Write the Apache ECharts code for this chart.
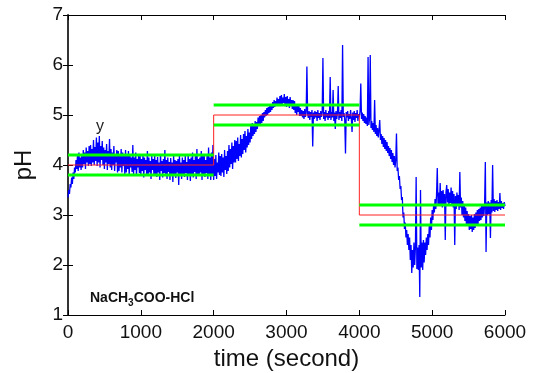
<!DOCTYPE html>
<html>
<head>
<meta charset="utf-8">
<script src="https://cdn.jsdelivr.net/npm/echarts@6/dist/echarts.min.js"></script>
<style>
  html, body { margin: 0; padding: 0; background: #ffffff; }
  #chart { width: 535px; height: 373px; }
</style>
</head>
<body>
<div id="chart"></div>
<script>
// measured pH, one sample every SAMPLE_STEP seconds (0 .. 6000 s), one row per 100 s
const SAMPLE_STEP = 10;
const phValues = [
  3.35, 3.50, 3.42, 3.62, 3.55, 3.75, 3.62, 3.85, 3.72, 3.95,
  3.85, 4.10, 3.92, 4.18, 3.88, 4.25, 3.95, 4.15, 3.90, 4.22,
  3.95, 4.30, 4.02, 4.25, 3.92, 4.35, 4.05, 4.28, 3.98, 4.38,
  4.02, 4.40, 3.98, 4.32, 4.05, 4.50, 4.00, 4.36, 4.08, 4.55,
  3.98, 4.45, 4.05, 4.58, 3.95, 4.38, 4.10, 4.48, 4.00, 4.35,
  3.92, 4.30, 4.05, 4.42, 3.90, 4.28, 4.02, 4.52, 3.95, 4.32,
  3.90, 4.25, 4.00, 4.38, 3.88, 4.22, 4.05, 4.30, 3.85, 4.28,
  3.88, 4.20, 3.95, 4.32, 3.85, 4.25, 3.98, 4.18, 3.82, 4.30,
  3.85, 4.18, 3.92, 4.28, 3.80, 4.22, 3.95, 4.15, 3.86, 4.40,
  3.82, 4.15, 3.90, 4.25, 3.78, 4.12, 3.95, 4.20, 3.84, 4.18,
  3.80, 4.12, 3.88, 4.22, 3.75, 4.15, 3.90, 4.10, 3.82, 4.28,
  3.78, 4.15, 3.85, 4.08, 3.72, 4.18, 3.90, 4.12, 3.80, 4.20,
  3.82, 4.10, 3.76, 4.16, 3.85, 4.05, 3.70, 4.22, 3.88, 4.08,
  3.75, 4.12, 3.84, 4.30, 3.78, 4.10, 3.72, 4.15, 3.86, 4.06,
  3.70, 4.14, 3.82, 4.05, 3.66, 4.18, 3.80, 4.10, 3.74, 4.08,
  3.85, 4.12, 3.60, 4.20, 3.78, 4.05, 3.72, 4.15, 3.82, 4.10,
  3.76, 4.18, 3.84, 4.06, 3.70, 4.22, 3.80, 4.12, 3.68, 4.15,
  3.82, 4.25, 3.75, 4.10, 3.86, 4.20, 3.72, 4.32, 3.80, 4.12,
  3.78, 4.15, 3.85, 4.28, 3.70, 4.18, 3.82, 4.22, 3.76, 4.10,
  3.84, 4.20, 3.72, 4.35, 3.80, 4.15, 3.70, 4.25, 3.78, 4.40,
  3.70, 4.12, 3.78, 4.20, 3.72, 4.05, 3.85, 4.25, 3.80, 4.18,
  3.78, 4.22, 3.85, 4.15, 3.76, 4.30, 3.90, 4.18, 3.82, 4.28,
  3.88, 4.40, 3.95, 4.32, 4.02, 4.45, 3.92, 4.38, 4.05, 4.50,
  4.05, 4.48, 4.12, 4.55, 4.08, 4.42, 4.18, 4.60, 4.15, 4.52,
  4.22, 4.62, 4.30, 4.68, 4.25, 4.58, 4.35, 4.72, 4.40, 4.65,
  4.45, 4.80, 4.52, 4.84, 4.58, 4.82, 4.62, 4.88, 4.66, 4.86,
  4.72, 4.95, 4.78, 4.98, 4.80, 5.00, 4.84, 5.04, 4.88, 5.06,
  4.95, 5.10, 4.98, 5.14, 5.00, 5.16, 5.04, 5.18, 5.06, 5.22,
  5.10, 5.26, 5.14, 5.30, 5.16, 5.28, 5.18, 5.35, 5.20, 5.32,
  5.20, 5.38, 5.22, 5.40, 5.20, 5.35, 5.24, 5.42, 5.18, 5.36,
  5.16, 5.38, 5.20, 5.32, 5.14, 5.36, 5.18, 5.30, 5.12, 5.30,
  5.10, 5.28, 5.04, 5.22, 5.00, 5.20, 5.06, 5.18, 4.98, 5.14,
  4.98, 5.10, 4.95, 5.08, 4.92, 5.12, 4.96, 5.05, 5.97, 5.02,
  4.94, 5.08, 4.90, 5.06, 4.96, 5.10, 4.37, 5.05, 4.92, 5.08,
  4.95, 5.06, 4.88, 5.10, 4.94, 5.04, 4.90, 5.08, 4.96, 5.05,
  6.14, 4.92, 5.06, 4.88, 5.10, 4.95, 5.04, 4.90, 5.08, 4.94,
  5.76, 4.90, 5.06, 4.95, 5.50, 4.88, 5.05, 4.72, 5.08, 4.92,
  5.04, 5.58, 4.90, 5.06, 4.94, 5.10, 4.88, 6.40, 4.96, 5.04,
  4.90, 4.23, 5.06, 4.95, 5.08, 4.88, 5.02, 4.92, 5.10, 4.94,
  4.66, 5.05, 4.90, 5.08, 4.86, 5.04, 4.94, 5.10, 4.88, 5.02,
  4.96, 5.08, 5.63, 4.92, 5.05, 4.88, 5.02, 4.84, 4.98, 4.82,
  4.95, 4.78, 6.16, 4.80, 4.92, 6.20, 4.74, 4.88, 4.70, 4.84,
  4.66, 5.30, 4.62, 4.80, 4.58, 4.74, 4.55, 4.70, 4.90, 4.50,
  4.62, 4.42, 4.58, 4.36, 4.54, 4.32, 4.50, 4.28, 4.46, 4.24,
  4.38, 4.18, 4.34, 4.12, 4.30, 4.06, 4.24, 4.00, 4.18, 3.95,
  4.10, 4.63, 3.88, 3.95, 3.70, 3.78, 3.52, 3.58, 3.30, 3.36,
  2.95, 3.05, 2.72, 2.85, 2.55, 2.70, 2.40, 2.62, 2.30, 2.55,
  2.10, 2.40, 1.84, 2.30, 1.95, 2.45, 2.00, 2.35, 3.76, 1.92,
  2.35, 1.90, 2.40, 1.36, 3.50, 1.95, 2.45, 1.90, 2.50, 2.05,
  2.45, 2.20, 2.55, 2.30, 2.62, 2.40, 2.78, 2.55, 2.95, 2.70,
  3.10, 2.90, 3.20, 3.05, 3.32, 3.12, 3.40, 3.94, 3.22, 3.45,
  3.18, 3.64, 3.20, 3.48, 3.15, 3.50, 3.22, 3.42, 2.50, 3.46,
  3.60, 3.25, 3.52, 3.18, 3.45, 3.24, 3.55, 3.20, 3.48, 3.15,
  3.42, 2.40, 3.38, 3.12, 3.45, 3.18, 3.40, 3.10, 3.86, 3.15,
  3.35, 3.00, 3.28, 2.95, 3.22, 2.88, 3.15, 2.82, 3.08, 2.78,
  3.02, 2.70, 2.98, 2.72, 3.00, 2.66, 2.95, 2.70, 3.02, 2.74,
  3.05, 2.78, 3.10, 2.82, 3.12, 2.88, 3.15, 2.90, 3.18, 2.95,
  3.20, 2.98, 3.22, 4.06, 2.26, 3.25, 3.00, 3.28, 3.02, 3.25,
  2.54, 3.30, 3.05, 4.00, 3.08, 3.32, 3.06, 3.28, 3.10, 3.30,
  3.08, 3.26, 3.12, 3.44, 3.10, 3.28, 3.14, 3.24, 3.12, 3.26,
  3.18
];

// set-point steps and tolerance band
const stepBounds = [0, 2000, 4000, 6000];
const setpoints = [4, 5, 3];
const bandHalfWidth = 0.2;

const xTicks = [0, 1000, 2000, 3000, 4000, 5000, 6000];
const yTicks = [1, 2, 3, 4, 5, 6, 7];

const chart = echarts.init(document.getElementById("chart"), null, { renderer: "canvas" });

const FONT = "Liberation Sans, Arial, sans-serif";

// red set-point staircase
const setpointLine = [];
setpoints.forEach((sp, i) => {
  setpointLine.push([stepBounds[i], sp]);
  setpointLine.push([stepBounds[i + 1], sp]);
});

// green tolerance lines
const bandSeries = [];
setpoints.forEach((sp, i) => {
  [sp + bandHalfWidth, sp - bandHalfWidth].forEach((v) => {
    bandSeries.push({
      type: "line",
      data: [[stepBounds[i], v], [stepBounds[i + 1], v]],
      showSymbol: false,
      silent: true,
      lineStyle: { color: "#00ff00", width: 3, cap: "butt" },
      z: 4,
    });
  });
});

const tickStyle = { show: true, inside: true, length: 5, lineStyle: { color: "#000", width: 1 } };

const options = {
  animation: false,
  backgroundColor: "#ffffff",
  grid: { left: 68, right: 30, top: 15, bottom: 58, outerBoundsMode: "none" },
  title: [
    {
      text: "{a|NaCH}{s|3}{a|COO-HCl}",
      left: 90,
      top: 288,
      padding: 0,
      textStyle: {
        rich: {
          a: { fontFamily: FONT, fontSize: 14, fontWeight: "bold", color: "#111", lineHeight: 20, verticalAlign: "middle" },
          s: { fontFamily: FONT, fontSize: 10, fontWeight: "bold", color: "#111", lineHeight: 10, verticalAlign: "bottom" },
        },
      },
    },
    {
      text: "y",
      left: 96,
      top: 119,
      padding: 0,
      textStyle: { fontFamily: FONT, fontSize: 16, fontWeight: "normal", color: "#222" },
    },
  ],
  xAxis: [
    {
      type: "value",
      min: 0,
      max: 6000,
      interval: 1000,
      name: "time (second)",
      nameLocation: "middle",
      nameGap: 28,
      nameTextStyle: { fontFamily: FONT, fontSize: 24, color: "#111" },
      axisLine: { show: true, lineStyle: { color: "#000", width: 1 } },
      axisTick: tickStyle,
      axisLabel: {
        fontFamily: FONT,
        fontSize: 19,
        color: "#111",
        margin: 8,
        formatter: (v) => (xTicks.includes(v) ? String(v) : ""),
      },
      splitLine: { show: false },
    },
    {
      type: "value",
      position: "top",
      min: 0,
      max: 6000,
      interval: 1000,
      axisLine: { show: true, lineStyle: { color: "#000", width: 1 } },
      axisTick: tickStyle,
      axisLabel: { show: false },
      splitLine: { show: false },
    },
  ],
  yAxis: [
    {
      type: "value",
      min: 1,
      max: 7,
      interval: 1,
      name: "pH",
      nameLocation: "middle",
      nameGap: 32,
      nameRotate: 90,
      nameTextStyle: { fontFamily: FONT, fontSize: 24, color: "#111" },
      axisLine: { show: true, lineStyle: { color: "#000", width: 1 } },
      axisTick: tickStyle,
      axisLabel: {
        fontFamily: FONT,
        fontSize: 19,
        color: "#111",
        margin: 5,
        formatter: (v) => (yTicks.includes(v) ? String(v) : ""),
      },
      splitLine: { show: false },
    },
    {
      type: "value",
      position: "right",
      min: 1,
      max: 7,
      interval: 1,
      axisLine: { show: true, lineStyle: { color: "#333", width: 2 } },
      axisTick: tickStyle,
      axisLabel: { show: false },
      splitLine: { show: false },
    },
  ],
  series: [
    {
      type: "line",
      data: phValues.map((v, i) => [i * SAMPLE_STEP, v]),
      showSymbol: false,
      silent: true,
      lineStyle: { color: "#0000ff", width: 1.3 },
      z: 2,
    },
    {
      type: "line",
      data: setpointLine,
      showSymbol: false,
      silent: true,
      lineStyle: { color: "#ff2020", width: 1 },
      z: 3,
    },
    ...bandSeries,
  ],
};

chart.setOption(options);

window.addEventListener("resize", () => chart.resize());
</script>
</body>
</html>
